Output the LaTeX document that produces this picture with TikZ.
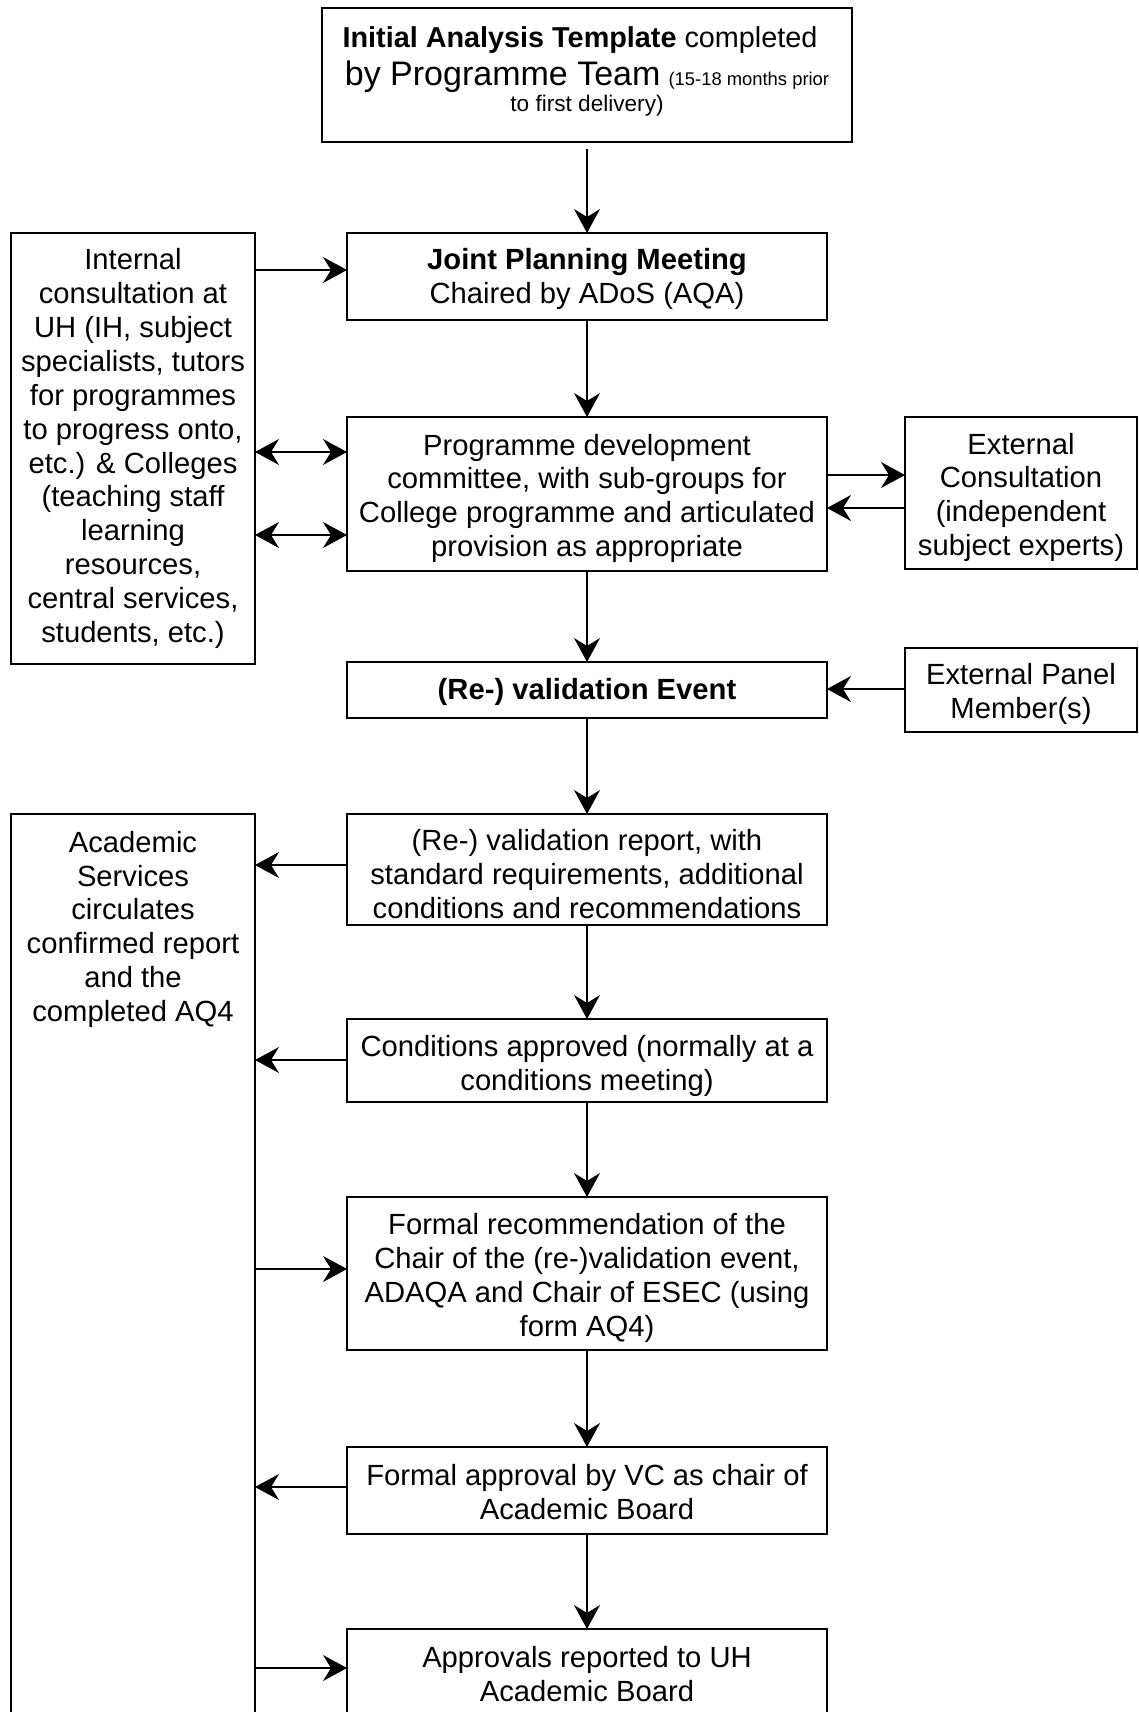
\documentclass[tikz,border=0pt]{standalone}
\usepackage{fontspec}
\setmainfont{Liberation Sans}
\usetikzlibrary{arrows.meta}
\newcommand\bt[2][15pt]{\rule{0pt}{#1}#2\rule[-3.1pt]{0pt}{0pt}}
\begin{document}
\begin{tikzpicture}[x=0.5pt,y=-0.5pt,
  box/.style={draw, line width=1.1pt, inner sep=0pt, outer sep=0pt, align=center, font=\fontsize{14.6}{16.95}\selectfont},
  frame/.style={draw, line width=1.1pt, inner sep=0pt, outer sep=0pt},
  txt/.style={inner sep=0pt, outer sep=0pt, align=center, font=\fontsize{14.6}{16.95}\selectfont},
  tip/.tip={Stealth[length=12pt,width=13pt,inset=4pt]},
  arr/.style={line width=0.6pt, -tip},
  darr/.style={line width=0.6pt, tip-tip}]
\clip (0,0) rectangle (1139,1712);
% boxes
\node[frame, minimum width=265pt, minimum height=67pt] (top) at (587,75) {};
\node[txt, anchor=north] (toptext) at (587,27) {{\fontsize{14.4}{16.95}\selectfont\textbf{Initial Analysis Template} completed\hspace*{7pt}}\\[2pt]{\fontsize{17}{16.95}\selectfont by Programme Team} {\fontsize{9.2}{10}\selectfont (15-18 months prior}\\[-4.2pt]{\fontsize{11.3}{12}\selectfont to first delivery)}};
\node[box, minimum width=240pt, minimum height=43.5pt] (jpm) at (587,276.5) {\bt[13pt]{\textbf{Joint Planning Meeting}\\Chaired by ADoS (AQA)}};
\node[box, minimum width=122pt, minimum height=215.5pt] (int) at (133,448.5) {Internal\\consultation at\\UH (IH, subject\\specialists, tutors\\for programmes\\to progress onto,\\etc.) \& Colleges\\(teaching staff\\learning\\resources,\\central services,\\students, etc.)};
\node[box, minimum width=240pt, minimum height=77pt] (pdc) at (587,494) {\bt{Programme development\\committee, with sub-groups for\\College programme and articulated\\provision as appropriate}};
\node[box, minimum width=116pt, minimum height=76pt] (ext) at (1021,493) {\bt{External\\Consultation\\(independent\\subject experts)}};
\node[box, minimum width=240pt, minimum height=28pt] (evt) at (587,690) {\bt[13pt]{\textbf{(Re-) validation Event}}};
\node[box, minimum width=116pt, minimum height=42pt] (pan) at (1021,690) {\bt{External Panel\\Member(s)}};
\node[box, minimum width=240pt, minimum height=55.5pt] (rep) at (587,869.5) {\bt[18pt]{(Re-) validation report, with\\standard requirements, additional\\conditions and recommendations}};
\node[frame, minimum width=122pt, minimum height=465.5pt] (acs) at (133,1279.5) {};
\node[txt, anchor=north] (acstext) at (133,831) {Academic\\Services\\circulates\\confirmed report\\and the\\completed AQ4};
\node[box, minimum width=240pt, minimum height=41.5pt] (cond) at (587,1060.5) {\bt[16pt]{Conditions approved (normally at a\\conditions meeting)}};
\node[box, minimum width=240pt, minimum height=76.5pt] (frec) at (587,1273.5) {\bt{Formal recommendation of the\\Chair of the (re-)validation event,\\ADAQA and Chair of ESEC (using\\form AQ4)}};
\node[box, minimum width=240pt, minimum height=43.5pt] (fapp) at (587,1490.5) {\bt{Formal approval by VC as chair of\\Academic Board}};
\node[box, minimum width=240pt, minimum height=43.5pt] (arep) at (587,1672.5) {\bt{Approvals reported to UH\\Academic Board}};
% vertical flow
\draw[arr] ([yshift=-3.5pt]top.south) -- (jpm.north);
\draw[arr] (jpm.south) -- (pdc.north);
\draw[arr] (pdc.south) -- (evt.north);
\draw[arr] (evt.south) -- (rep.north);
\draw[arr] (rep.south) -- (cond.north);
\draw[arr] (cond.south) -- (frec.north);
\draw[arr] (frec.south) -- (fapp.north);
\draw[arr] (fapp.south) -- (arep.north);
% side connectors
\draw[arr] (int.east |- 0,270) -- (jpm.west |- 0,270);
\draw[darr] (int.east |- 0,452) -- (pdc.west |- 0,452);
\draw[darr] (int.east |- 0,535) -- (pdc.west |- 0,535);
\draw[arr] (pdc.east |- 0,475) -- (ext.west |- 0,475);
\draw[arr] (ext.west |- 0,508) -- (pdc.east |- 0,508);
\draw[arr] (pan.west |- 0,689) -- (evt.east |- 0,689);
\draw[arr] (rep.west |- 0,865) -- (acs.east |- 0,865);
\draw[arr] (cond.west |- 0,1060) -- (acs.east |- 0,1060);
\draw[arr] (acs.east |- 0,1269) -- (frec.west |- 0,1269);
\draw[arr] (fapp.west |- 0,1487) -- (acs.east |- 0,1487);
\draw[arr] (acs.east |- 0,1668) -- (arep.west |- 0,1668);
\end{tikzpicture}
\end{document}
